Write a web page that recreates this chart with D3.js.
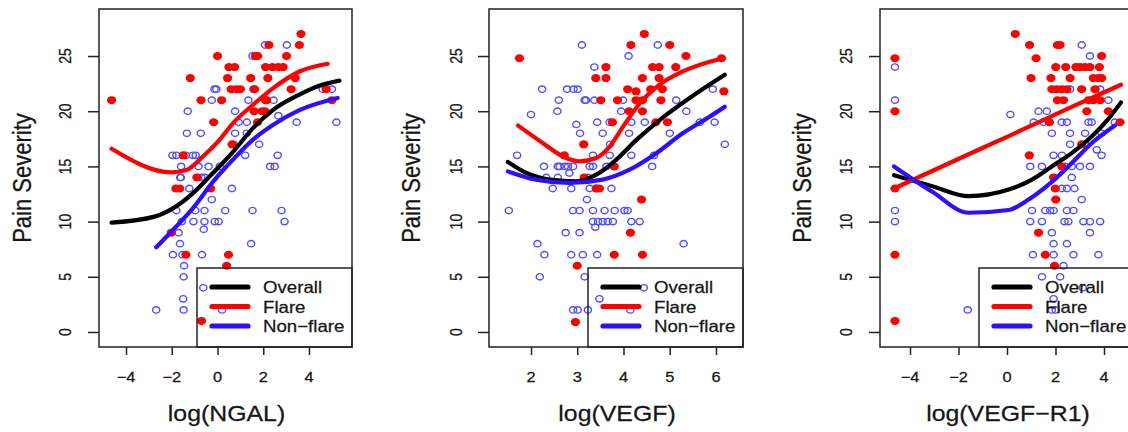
<!DOCTYPE html>
<html>
<head>
<meta charset="utf-8">
<script src="https://cdn.jsdelivr.net/npm/d3@7/dist/d3.min.js"></script>
<style>
  body { margin: 0; background: #fff; }
  svg { display: block; font-family: "Liberation Sans", Arial, sans-serif; }
</style>
</head>
<body>
<div id="chart"></div>
<script>
// ---- data ----
const yTicks = [0, 5, 10, 15, 20, 25];
const ngalTicks = [-4, -2, 0, 2, 4];
const vegfTicks = [2, 3, 4, 5, 6];
const r1Ticks = [-4, -2, 0, 2, 4];
const legendLabels = ["Overall", "Flare", "Non\u2212flare"];

const ngalFlare = [[-4.63,21],[-1.19,23],[0.0,25],[0.5,24],[0.75,24],[0.44,23],[1.45,23],[-0.72,21],[0.18,21],
  [0.6,22],[0.83,22],[1.0,22],[1.62,22],[1.66,25],[2.25,26],[3.58,26],[3.65,27],[2.1,24],[2.4,24],[2.65,24],
  [2.87,24],[3.02,25],[1.76,25],[2.2,23],[3.4,23],[3.22,22],[2.1,21],[4.75,22],[5.0,21],[1.6,20],[1.94,20],
  [2.08,20],[2.15,21],[-0.17,19],[1.75,19],[0.64,17],[-1.5,16],[-0.9,14],[-1.65,13],[-1.82,13],[-0.3,13],
  [-2.02,9],[-1.38,7],[0.48,7],[0.4,6],[-0.7,1]];
const ngalNonflare = [[-2.68,2],[-1.48,2],[0.2,2],[-1.5,3],[-1.48,5],[-1.46,6],[-0.62,4],[-1.53,7],[-1.95,7],
  [-0.68,7],[-1.64,8],[1.47,8],[-1.7,9],[-0.6,9.3],[-1.56,10],[-1.05,10],[-0.57,10],[-0.12,10],[0.05,10],
  [2.93,10],[-1.8,11],[-0.97,11],[-0.57,11],[0.34,11],[1.53,11],[2.8,11],[-0.25,12],[0.63,13],[-1.23,13],
  [-1.63,14],[-1.6,14],[-0.7,14],[-0.55,14],[-1.59,15],[-0.83,15],[-0.39,15],[0.1,15],[2.3,15],[2.5,15],
  [-1.97,16],[-1.8,16],[-1.38,16],[-1.08,16],[-0.95,16],[1.21,16],[2.63,16],[0.7,17],[1.82,17],[-1.34,18],
  [-0.73,18],[0.77,18],[1.28,18],[0.92,19],[1.28,19],[3.46,19],[5.2,19],[-1.3,20],[0.77,20],[2.66,19.6],
  [-0.25,21],[1.35,21],[2.45,21],[-0.13,22],[-0.05,22],[1.57,22],[4.6,22],[5.0,22],[1.53,25],[2.08,26],[3.03,26]];
const ngalOverallFit = [[-4.63,9.9],[-2.75,10.45],[-1.95,11.2],[-1.08,12.56],[-0.2,14.4],[0.67,16.3],[1.54,18.45],
  [2.42,20.1],[3.58,21.5],[4.45,22.3],[5.33,22.77]];
const ngalFlareFit = [[-4.63,16.6],[-2.02,14.46],[-1.37,14.67],[-0.64,15.9],[0.09,17.4],[0.67,18.9],[1.54,20.56],
  [2.42,22.07],[3.58,23.6],[4.82,24.3]];
const ngalNonflareFit = [[-2.68,7.67],[-1.95,9.24],[-1.08,11.2],[-0.2,13.6],[0.67,15.6],[1.54,17.4],[2.42,18.75],
  [3.58,20.1],[5.25,21.2]];

const vegfFlare = [[1.75,24.8],[4.45,27],[4.16,26],[5.0,26],[5.35,25],[6.12,24.8],[3.62,24],[4.63,24],[4.77,24],
  [5.13,24],[3.4,23],[3.62,23],[4.41,23],[4.77,23],[4.09,22],[4.27,21.8],[4.59,22],[4.84,22],[6.17,21.8],
  [3.51,21],[3.87,21],[4.27,21],[4.41,21],[4.81,21],[4.12,20],[4.41,20],[3.76,19],[4.7,19],[4.95,19],
  [3.14,17],[2.72,16],[3.8,15],[3.15,14],[3.41,13],[3.48,13],[4.39,12],[4.15,9],[3.8,7],[4.41,7],[3.0,6],[2.96,0.9]];
const vegfNonflare = [[1.52,11],[1.7,16],[2.0,19.7],[2.24,22],[2.6,21],[2.57,20],[2.78,22],[2.92,22],[3.01,22],
  [3.16,21],[3.19,21],[3.37,24],[3.1,26],[4.11,25],[4.74,26],[3.37,21],[3.99,21],[3.95,20],[2.98,18.8],[3.06,18],
  [3.43,19],[3.7,19],[3.55,18],[4.17,19],[4.46,19],[4.12,18],[5.0,18],[5.14,21],[5.36,20],[5.65,19],[5.93,22],
  [5.97,19],[6.19,17],[4.66,16],[4.17,16],[4.62,15],[3.7,16],[3.34,16],[3.71,17],[2.28,15],[2.58,15],[2.62,15],
  [2.73,15],[2.8,15],[2.91,15],[3.27,15],[3.34,15],[3.63,15],[2.33,14],[2.58,14],[2.83,14.4],[3.23,14],
  [2.47,13],[2.87,13],[3.27,13],[3.41,13],[3.74,13],[3.21,12],[2.91,11],[3.05,11],[3.34,11],[3.59,11],
  [3.81,11],[4.02,11],[4.09,11],[3.34,10],[3.45,10],[3.55,10],[3.66,10],[3.77,10],[4.17,10],[4.35,10],
  [3.39,9.5],[2.75,9],[3.05,9],[2.14,8],[2.29,7],[2.87,7],[3.12,7],[3.43,7],[5.3,8],[2.19,5],[3.16,5],
  [4.44,4],[3.48,3],[2.91,2],[3.01,2],[3.23,2],[4.15,2]];
const vegfOverallFit = [[1.5,15.4],[1.9,14.4],[2.4,13.8],[2.98,13.65],[3.41,14.25],[3.84,15.6],[4.28,17.4],
  [4.78,19.2],[5.43,21.2],[6.19,23.3]];
const vegfFlareFit = [[1.72,18.7],[2.26,17.1],[2.69,15.9],[3.05,15.45],[3.41,15.76],[3.7,16.8],[3.99,18.6],
  [4.35,20.7],[4.78,22.4],[5.28,23.6],[6.15,24.8]];
const vegfNonflareFit = [[1.5,14.55],[2.11,13.8],[2.83,13.5],[3.55,13.8],[4.13,14.7],[4.71,16.2],[5.28,18.0],
  [5.86,19.5],[6.19,20.4]];

const r1Flare = [[-4.62,24.8],[-4.62,20],[-4.62,13],[-4.62,7],[-4.62,1],[0.34,27],[0.93,26],[1.2,24.8],[0.99,23],
  [2.08,26],[2.19,26],[2.01,24],[2.42,24],[2.84,24],[3.01,24],[3.22,24],[3.42,24],[3.81,24],[3.9,25],[1.81,23],
  [2.6,23],[3.56,23],[3.77,23],[3.9,23],[1.85,22],[2.05,22],[2.26,22],[2.47,22],[3.08,22],[3.63,22],[2.08,21],
  [2.33,21],[3.36,21],[3.56,21],[3.84,21],[3.29,20],[4.18,20],[1.75,19],[4.66,19],[3.08,17],[0.92,16],[2.26,15],
  [1.92,14],[1.99,13],[2.01,12],[1.3,9],[1.58,7],[1.96,6]];
const r1Nonflare = [[-4.62,24],[-4.62,21],[-4.62,11],[-4.62,10],[-1.62,2],[0.14,19.7],[1.3,20],[1.64,20],[1.1,19],
  [1.5,19],[2.26,19],[2.47,19],[3.36,19],[3.49,19],[1.85,18],[2.6,18],[3.22,18],[2.6,17],[3.22,17],[1.92,16],
  [2.26,16],[3.9,16],[0.96,15],[1.44,15],[2.4,15],[2.67,15],[3.01,15],[3.42,15],[2.67,14],[2.26,13],[2.47,13],
  [2.78,13],[3.08,12],[1.03,11],[1.58,11],[1.78,11],[1.92,11],[2.47,11],[2.74,11],[0.96,10],[1.44,10],[2.37,10],
  [2.53,10],[3.15,10],[3.42,10],[3.84,10],[3.42,9],[1.85,9],[1.92,8],[2.47,8],[1.07,7],[1.92,7],[2.74,7],
  [3.77,7],[2.33,6],[1.44,5],[2.19,5],[3.12,4],[1.92,3],[1.85,2],[2.01,2],[3.08,26],[3.42,25],[2.6,22],[3.84,22],
  [4.18,21],[4.45,19],[3.7,16.5],[3.9,18]];
const r1OverallFit = [[-4.66,14.2],[-3.08,13.2],[-1.58,12.3],[0.07,12.9],[1.03,13.8],[1.85,15.0],[2.67,16.2],
  [3.49,17.7],[4.18,19.3],[4.7,20.8]];
const r1FlareFit = [[-4.66,13.0],[-1.58,16.1],[0.07,17.75],[2.67,20.4],[4.7,22.4]];
const r1NonflareFit = [[-4.66,15.0],[-3.08,12.7],[-1.58,10.8],[0.07,11.05],[0.89,12.0],[1.85,13.6],[2.67,15.3],
  [3.49,17.1],[4.45,18.7]];

// ---- layout ----
const W = 1128, H = 432;
const plotTop = 9, plotBottom = 347;
const sx = 1.13; // the picture is a little wider than tall, text too
const ink = "#161616";
const colors = { overall: "#000000", flare: "#ff0000", nonflare: "#2a10ff" };

const panels = [
  { title: "log(NGAL)", left: 99, right: 352, xDomain: [-5.18, 5.88], xTicks: ngalTicks,
    flare: ngalFlare, nonflare: ngalNonflare, fits: [ngalOverallFit, ngalFlareFit, ngalNonflareFit],
    yLabelX: 65, yTitleX: 22 },
  { title: "log(VEGF)", left: 489, right: 743, xDomain: [1.092, 6.584], xTicks: vegfTicks,
    flare: vegfFlare, nonflare: vegfNonflare, fits: [vegfOverallFit, vegfFlareFit, vegfNonflareFit],
    yLabelX: 456, yTitleX: 411 },
  { title: "log(VEGF\u2212R1)", left: 880, right: 1134, xDomain: [-5.237, 5.237], xTicks: r1Ticks,
    flare: r1Flare, nonflare: r1Nonflare, fits: [r1OverallFit, r1FlareFit, r1NonflareFit],
    yLabelX: 846, yTitleX: 802 }
];

const svg = d3.select("#chart").append("svg")
  .attr("width", W)
  .attr("height", H);

const y = d3.scaleLinear().domain([-1.36, 29.26]).range([plotBottom, plotTop]);
const fitColors = [colors.overall, colors.flare, colors.nonflare];
const fmt = d => d < 0 ? "\u2212" + Math.abs(d) : String(d);

function label(g, x, yy, txt, size, anchor, rotate) {
  const t = rotate
    ? `translate(${x},${yy}) rotate(-90) scale(1,${sx})`
    : `translate(${x},${yy}) scale(${sx},1)`;
  return g.append("text").attr("transform", t)
    .attr("text-anchor", anchor).attr("font-size", size)
    .attr("fill", ink).attr("stroke", ink).attr("stroke-width", 0.25)
    .text(txt);
}

panels.forEach(p => {
  const x = d3.scaleLinear().domain(p.xDomain).range([p.left, p.right]);
  const g = svg.append("g");

  // points
  g.selectAll(".nf").data(p.nonflare).enter().append("ellipse")
    .attr("cx", d => x(d[0])).attr("cy", d => y(d[1])).attr("rx", 3.6).attr("ry", 3.2)
    .attr("fill", "none").attr("stroke", "#4f4fff").attr("stroke-width", 1.4);
  g.selectAll(".fl").data(p.flare).enter().append("ellipse")
    .attr("cx", d => x(d[0])).attr("cy", d => y(d[1])).attr("rx", 4.6).attr("ry", 4.0)
    .attr("fill", "#ff0000");

  // smooth fits
  const line = d3.line().x(d => x(d[0])).y(d => y(d[1])).curve(d3.curveMonotoneX);
  p.fits.forEach((f, i) => {
    g.append("path").attr("d", line(f))
      .attr("fill", "none").attr("stroke", fitColors[i])
      .attr("stroke-width", 4.2).attr("stroke-linecap", "round").attr("stroke-linejoin", "round");
  });

  // box
  g.append("rect")
    .attr("x", p.left).attr("y", plotTop)
    .attr("width", p.right - p.left).attr("height", plotBottom - plotTop)
    .attr("fill", "none").attr("stroke", "#222").attr("stroke-width", 1.5);

  // x axis
  const xa = g.append("g").attr("transform", `translate(0,${plotBottom})`)
    .call(d3.axisBottom(x).tickValues(p.xTicks).tickSize(8).tickFormat(""));
  xa.select(".domain").remove();
  xa.selectAll("line").attr("stroke", "#222").attr("stroke-width", 1.5);
  p.xTicks.forEach(v => label(g, x(v), 382, fmt(v), 14.5, "middle", false));

  // y axis, labels parallel to the axis
  const ya = g.append("g").attr("transform", `translate(${p.left},0)`)
    .call(d3.axisLeft(y).tickValues(yTicks).tickSize(11).tickFormat(""));
  ya.select(".domain").remove();
  ya.selectAll("line").attr("stroke", "#222").attr("stroke-width", 1.5);
  yTicks.forEach(v => label(g, p.yLabelX + 5.5, y(v), v, 14, "middle", true));

  // titles
  label(g, (p.left + p.right) / 2 + 1, 421, p.title, 22, "middle", false);
  label(g, p.yTitleX + 8.5, (plotTop + plotBottom) / 2, "Pain Severity", 22, "middle", true);

  // legend, no fill
  const lx = p.right - 155, ly = 268;
  g.append("rect").attr("x", lx).attr("y", ly).attr("width", 155).attr("height", plotBottom - ly)
    .attr("fill", "none").attr("stroke", "#222").attr("stroke-width", 1.5);
  legendLabels.forEach((lab, i) => {
    const yy = ly + 19 + i * 19.5;
    g.append("line").attr("x1", lx + 15).attr("x2", lx + 51).attr("y1", yy).attr("y2", yy)
      .attr("stroke", fitColors[i]).attr("stroke-width", 5.2).attr("stroke-linecap", "round");
    label(g, lx + 66, yy + 6, lab, 16.5, "start", false);
  });
});
</script>
</body>
</html>
